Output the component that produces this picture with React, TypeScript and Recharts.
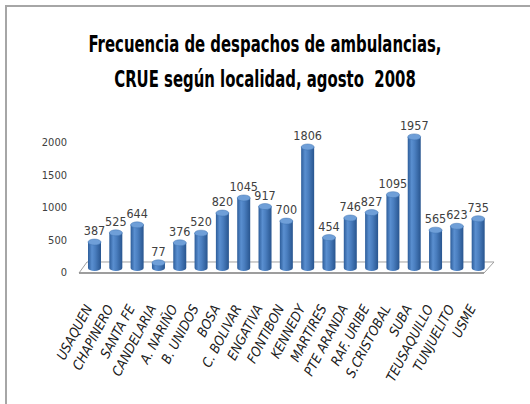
import React from 'react';
import { BarChart, Bar, XAxis, YAxis, LabelList, ReferenceArea } from 'recharts';

const localidades = [
  'USAQUEN', 'CHAPINERO', 'SANTA FE', 'CANDELARIA', 'A. NARIÑO', 'B. UNIDOS', 'BOSA',
  'C. BOLIVAR', 'ENGATIVA', 'FONTIBON', 'KENNEDY', 'MARTIRES', 'PTE ARANDA', 'RAF. URIBE',
  'S.CRISTOBAL', 'SUBA', 'TEUSAQUILLO', 'TUNJUELITO', 'USME',
];
const despachos = [387, 525, 644, 77, 376, 520, 820, 1045, 917, 700, 1806, 454, 746, 827, 1095, 1957, 565, 623, 735];
const yTicks = [0, 500, 1000, 1500, 2000];

const data = localidades.map((name, i) => ({ name, value: despachos[i] }));

const FONT = "'DejaVu Sans Condensed', 'Liberation Sans Narrow', sans-serif";

// cylinder look: gradient body + elliptical cap
const Cylinder = (props: any) => {
  const { x, y, width, height } = props;
  if (!height || height <= 0) return null;
  const ry = 3;
  const cx = x + width / 2;
  return (
    <g>
      <path
        d={`M${x},${y} L${x},${y + height} A${width / 2},${ry} 0 0 0 ${x + width},${y + height} L${x + width},${y} Z`}
        fill="url(#cylBody)"
      />
      <ellipse cx={cx} cy={y} rx={width / 2} ry={ry} fill="#6f9fd8" stroke="#3f72b0" strokeWidth={0.5} />
    </g>
  );
};

const Floor = (props: any) => {
  const { x, y, width, height } = props;
  const b = y + height + 5;
  return (
    <g>
      <polygon
        points={`${x + 3},${y} ${x + width + 5},${y} ${x + width - 5},${b} ${x - 5},${b}`}
        fill="#ffffff"
        stroke="#a0a0a0"
        strokeWidth={1}
      />
      <line x1={x - 5} y1={b} x2={x + width - 5} y2={b} stroke="#8c8c8c" strokeWidth={1.5} />
    </g>
  );
};

const YTick = (props: any) => {
  const { x, y, payload } = props;
  const shift = 4 + (4 * payload.value) / 2000;
  return (
    <text x={x - 9} y={y + shift} dy={4} textAnchor="end" fontSize={11} fontFamily={FONT} fill="#404040">
      {payload.value}
    </text>
  );
};

const XTick = (props: any) => {
  const { x, y, payload } = props;
  return (
    <text
      transform={`translate(${x - 2},${y + 32}) rotate(-62)`}
      textAnchor="end"
      fontSize={13.5}
      fontStyle="italic"
      fontFamily={FONT}
      fill="#202020"
    >
      {payload.value}
    </text>
  );
};

export default function App() {
  return (
    <div style={{ position: 'absolute', left: 0, top: 0, width: 530, height: 404, background: '#fff' }}>
      <div
        style={{
          position: 'absolute', left: 5, top: 5, width: 525, height: 399,
          borderTop: '2px solid #a6a6a6', borderLeft: '2px solid #a6a6a6',
        }}
      />
      <div
        style={{
          position: 'absolute', left: 0, top: 27, width: 530, textAlign: 'center',
          fontFamily: FONT, fontWeight: 'bold', fontSize: 23, lineHeight: '35px', color: '#000',
          transform: 'scaleX(0.72)', transformOrigin: '265px 0',
        }}
      >
        Frecuencia de despachos de ambulancias,
        <br />
        CRUE según localidad, agosto&nbsp; 2008
      </div>
      <BarChart
        width={530}
        height={404}
        data={data}
        margin={{ top: 134, right: 41, bottom: 0, left: 0 }}
        style={{ position: 'absolute', left: 0, top: 0 }}
      >
        <defs>
          <linearGradient id="cylBody" x1="0" y1="0" x2="1" y2="0">
            <stop offset="0%" stopColor="#2d5d9a" />
            <stop offset="30%" stopColor="#5a8fd0" />
            <stop offset="55%" stopColor="#4a7ebf" />
            <stop offset="100%" stopColor="#28558f" />
          </linearGradient>
        </defs>
        <YAxis
          domain={[0, 2000]}
          ticks={yTicks}
          width={84}
          axisLine={false}
          tickLine={false}
          tick={<YTick />}
          interval={0}
        />
        <XAxis
          dataKey="name"
          height={136}
          axisLine={false}
          tickLine={false}
          interval={0}
          tick={<XTick />}
        />
        <ReferenceArea y1={0} y2={90} shape={<Floor />} ifOverflow="visible" />
        <Bar dataKey="value" barSize={13} shape={<Cylinder />} isAnimationActive={false}>
          <LabelList
            dataKey="value"
            position="top"
            offset={7}
            fontSize={12.5}
            fontFamily={FONT}
            fill="#404040"
          />
        </Bar>
      </BarChart>
    </div>
  );
}
